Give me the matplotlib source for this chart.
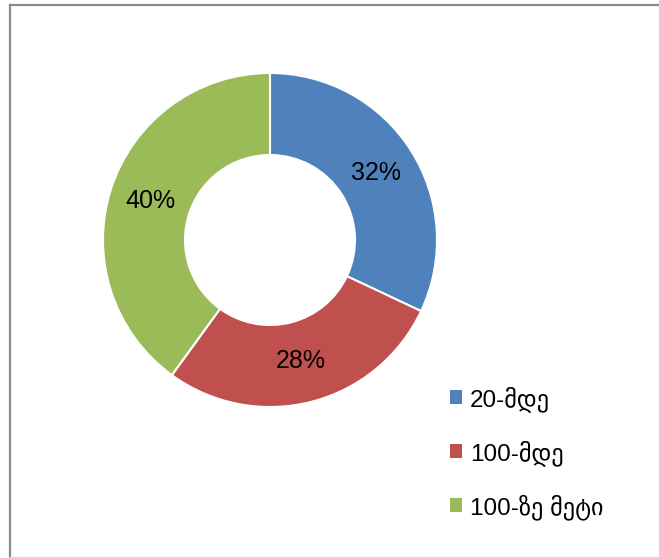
import matplotlib.pyplot as plt
from matplotlib.patches import Patch
from matplotlib.lines import Line2D

categories = ['20-მდე', '100-მდე', '100-ზე მეტი']
shares = [32, 28, 40]
colors = ['#4F81BD', '#C0504D', '#9BBB59']

plt.rcParams['font.family'] = ['Liberation Sans', 'DejaVu Sans']

W, H = 659, 558
fig = plt.figure(figsize=(W / 100, H / 100), dpi=100)
ax = fig.add_axes([0, 0, 1, 1])

# donut, starting at 12 o'clock and running clockwise
wedges, texts, autotexts = ax.pie(
    shares, colors=colors, startangle=90, counterclock=False,
    center=(270, H - 240), radius=167, frame=True,
    autopct='%d%%', pctdistance=0.75,
    wedgeprops=dict(width=82, edgecolor='white', linewidth=1.5),
    textprops=dict(fontsize=18, color='black'))

ax.set_xlim(0, W)
ax.set_ylim(0, H)
ax.set_aspect('equal')
ax.axis('off')

# chart area border
fig.add_artist(Line2D([10 / W, 10 / W], [1 - 4.5 / H, 1 - 557 / H], color='#8a8a8a', lw=1.6))
fig.add_artist(Line2D([10 / W, 1], [1 - 4.5 / H, 1 - 4.5 / H], color='#8a8a8a', lw=1.6))
fig.add_artist(Line2D([10 / W, 1], [1 - 557 / H, 1 - 557 / H], color='#d9d9d9', lw=1.0))

handles = [Patch(facecolor=c, edgecolor='none') for c in colors]
ax.legend(handles, categories, loc='upper left', bbox_to_anchor=(428 / W, 1 - 364 / H),
          frameon=False, fontsize=17.5, handlelength=0.5, handleheight=0.5,
          handletextpad=0.33, labelspacing=1.16)

fig.savefig('out.png', dpi=100)
